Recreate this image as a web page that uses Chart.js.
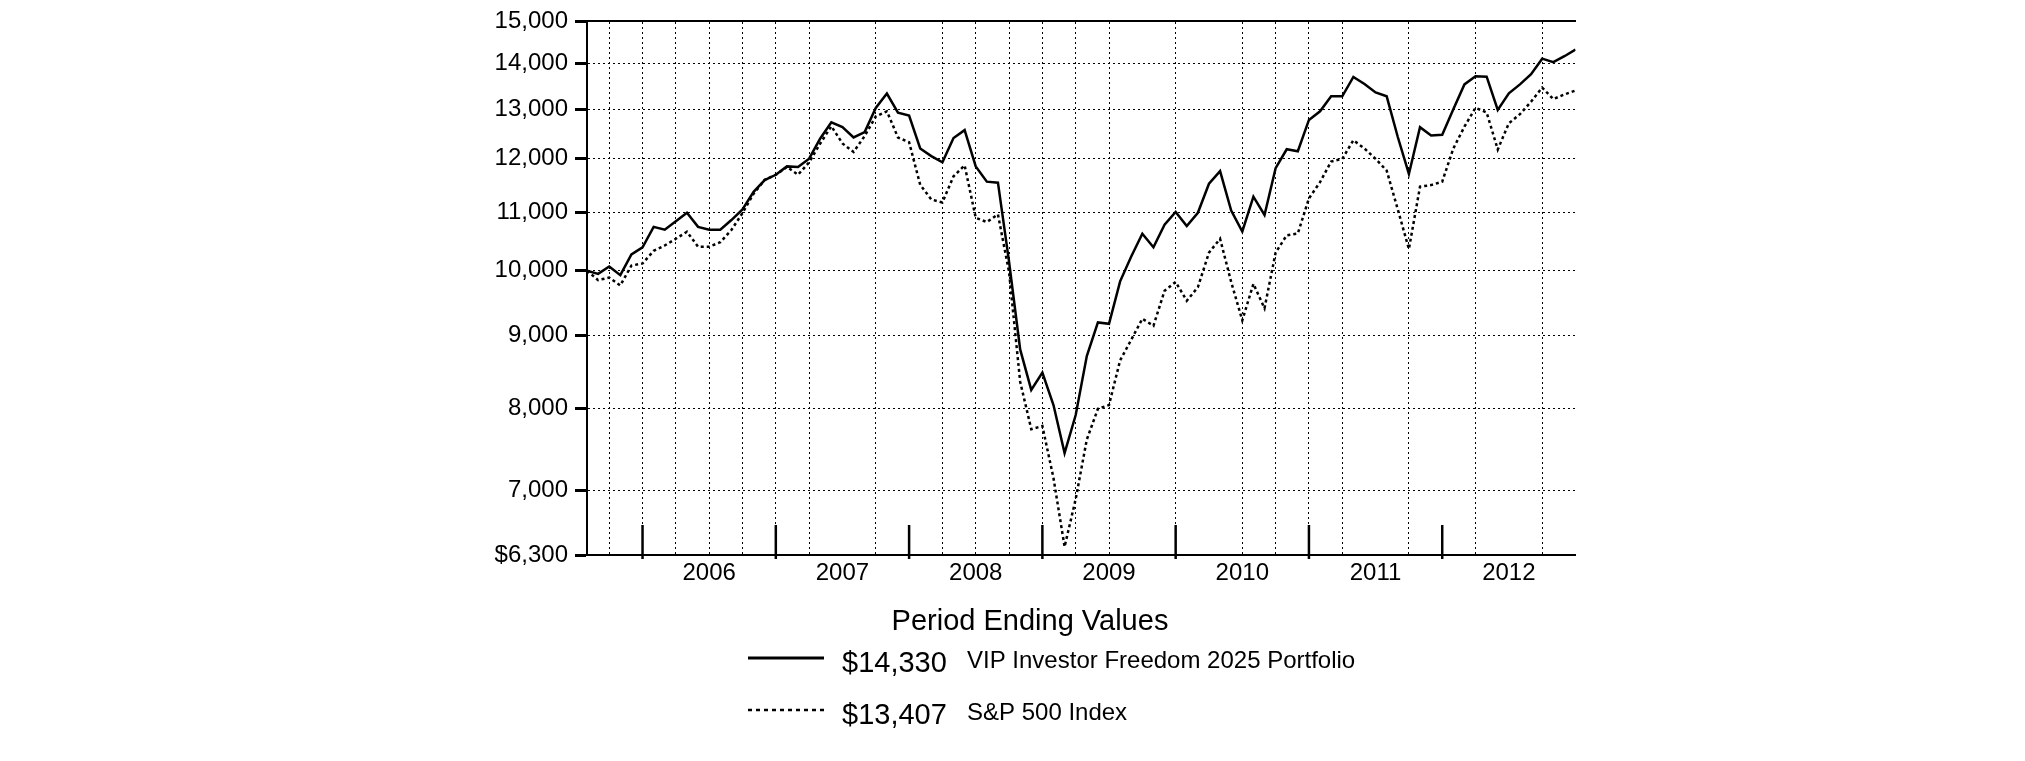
<!DOCTYPE html>
<html>
<head>
<meta charset="utf-8">
<title>Period Ending Values</title>
<script src="https://cdn.jsdelivr.net/npm/chart.js@4.4.1/dist/chart.umd.min.js"></script>
<style>
  html, body { margin: 0; padding: 0; background: #fff; }
  #wrap { width: 2025px; height: 761px; }
</style>
</head>
<body>
<div id="wrap"><canvas id="growthChart" width="2025" height="761"></canvas></div>
<script>
// month index 0 = start of the period (Jul 2005), 89 = Dec 2012
const fundName = "VIP Investor Freedom 2025 Portfolio";
const indexName = "S&P 500 Index";

const fundValues = [
  10000, 9950, 10070, 9930, 10270, 10390, 10740, 10690, 10840, 10990,
  10740, 10690, 10690, 10860, 11050, 11370, 11590, 11690, 11850, 11840,
  12000, 12400, 12730, 12630, 12420, 12530, 13030, 13340, 12930, 12870,
  12200, 12050, 11930, 12410, 12570, 11850, 11560, 11540, 10150, 8800,
  8240, 8475, 8040, 7435, 7910, 8705, 9195, 9175, 9830, 10235,
  10620, 10390, 10780, 11005, 10755, 10990, 11520, 11760, 11030, 10660,
  11280, 10950, 11815, 12185, 12145, 12780, 12960, 13280, 13280, 13705,
  13550, 13365, 13280, 12430, 11705, 12630, 12460, 12475, 13005, 13540,
  13720, 13710, 12990, 13345, 13540, 13765, 14118, 14040, 14175, 14330
];

const indexValues = [
  10000, 9850, 9890, 9765, 10085, 10120, 10330, 10420, 10535, 10655,
  10400, 10400, 10475, 10685, 10985, 11335, 11595, 11690, 11840, 11690,
  11930, 12300, 12650, 12300, 12130, 12450, 12850, 12960, 12420, 12325,
  11500, 11230, 11175, 11660, 11870, 10900, 10825, 10960, 9980, 8350,
  7730, 7770, 7140, 6385, 6900, 7600, 7990, 8040, 8645, 8940,
  9250, 9145, 9680, 9820, 9525, 9736, 10300, 10535, 9820, 9225,
  9790, 9410, 10300, 10595, 10625, 11250, 11550, 11945, 11995, 12365,
  12200, 11995, 11770, 11050, 10360, 11465, 11495, 11560, 12200, 12640,
  13035, 12935, 12180, 12710, 12900, 13165, 13470, 13220, 13320, 13407
];

const yTicks = [6300, 7000, 8000, 9000, 10000, 11000, 12000, 13000, 14000, 15000];
const yearLabels = ["2006", "2007", "2008", "2009", "2010", "2011", "2012"];
const yearMidMonths = [11, 23, 35, 47, 59, 71, 83];
const yearEndMonths = [5, 17, 29, 41, 53, 65, 77];
const gridMonths = [2, 5, 8, 11, 14, 17, 20, 26, 32, 35, 38, 41, 44, 47, 53, 59, 62, 65, 68, 74, 80, 86];

const FONT = '"Liberation Sans", Arial, sans-serif';

const toPoints = (arr) => arr.map((v, i) => ({ x: i, y: v }));
const money = (v) => v.toLocaleString("en-US");

// short solid marks at each year boundary on the bottom axis
const yearMarks = {
  id: "yearMarks",
  afterDatasetsDraw(chart) {
    const { ctx, chartArea, scales } = chart;
    ctx.save();
    ctx.strokeStyle = "#000";
    ctx.lineWidth = 2.5;
    yearEndMonths.forEach((m) => {
      const px = scales.x.getPixelForValue(m);
      ctx.beginPath();
      ctx.moveTo(px, chartArea.bottom - 30);
      ctx.lineTo(px, chartArea.bottom + 4);
      ctx.stroke();
    });
    ctx.restore();
  },
};

// title + legend underneath the chart
const endingLegend = {
  id: "endingLegend",
  afterDraw(chart) {
    const ctx = chart.ctx;
    const rows = [
      { dash: [], width: 3, value: fundValues[fundValues.length - 1], name: fundName, y: 658 },
      { dash: [4, 4], width: 2.5, value: indexValues[indexValues.length - 1], name: indexName, y: 710 },
    ];
    ctx.save();
    ctx.fillStyle = "#000";
    ctx.textBaseline = "middle";
    ctx.textAlign = "center";
    ctx.font = "29px " + FONT;
    ctx.fillText("Period Ending Values", 1030, 622);

    ctx.textAlign = "left";
    rows.forEach((r) => {
      ctx.strokeStyle = "#000";
      ctx.lineWidth = r.width;
      ctx.setLineDash(r.dash);
      ctx.beginPath();
      ctx.moveTo(748, r.y);
      ctx.lineTo(824, r.y);
      ctx.stroke();
      ctx.setLineDash([]);
      ctx.font = "29px " + FONT;
      ctx.fillText("$" + money(r.value), 842, r.y + 6);
      ctx.font = "24px " + FONT;
      ctx.fillText(r.name, 967, r.y + 3);
    });
    ctx.restore();
  },
};

const ctx = document.getElementById("growthChart").getContext("2d");
const growthChart = new Chart(ctx, {
  type: "line",
  data: {
    datasets: [
      {
        label: fundName,
        data: toPoints(fundValues),
        borderColor: "#000",
        borderWidth: 2.5,
        pointRadius: 0,
        tension: 0,
        fill: false,
      },
      {
        label: indexName,
        data: toPoints(indexValues),
        borderColor: "#000",
        borderWidth: 2.5,
        borderDash: [3, 3],
        pointRadius: 0,
        tension: 0,
        fill: false,
      },
    ],
  },
  options: {
    responsive: false,
    animation: false,
    devicePixelRatio: 1,
    layout: {
      padding: { left: 0, right: 449.5, top: 14, bottom: 0 },
    },
    plugins: {
      legend: { display: false },
      title: { display: false },
      tooltip: { enabled: false },
    },
    scales: {
      x: {
        type: "linear",
        position: "bottom",
        min: 0,
        max: fundValues.length - 1,
        afterBuildTicks: (scale) => {
          scale.ticks = yearMidMonths.map((m) => ({ value: m }));
        },
        afterFit: (scale) => {
          scale.height = 206;
        },
        ticks: {
          autoSkip: false,
          maxRotation: 0,
          padding: 4,
          color: "#000",
          font: { family: FONT, size: 24 },
          callback: (value, index) => yearLabels[index],
        },
        grid: { display: false, drawTicks: false },
        border: { display: true, color: "#000", width: 2 },
      },
      xg: {
        type: "linear",
        position: "top",
        min: 0,
        max: fundValues.length - 1,
        afterBuildTicks: (scale) => {
          scale.ticks = gridMonths.map((m) => ({ value: m }));
        },
        afterFit: (scale) => {
          scale.height = 0;
        },
        ticks: { display: false },
        grid: { display: true, drawTicks: false, color: "#000", lineWidth: 1 },
        border: { display: true, color: "#000", width: 2, dash: [2, 3] },
      },
      y: {
        type: "logarithmic",
        position: "left",
        min: 6300,
        max: 15000,
        afterBuildTicks: (scale) => {
          scale.ticks = yTicks.map((v) => ({ value: v }));
        },
        afterFit: (scale) => {
          scale.width = 587;
        },
        ticks: {
          autoSkip: false,
          padding: 7,
          color: "#000",
          font: { family: FONT, size: 24 },
          callback: (value) => (value === 6300 ? "$" : "") + money(value),
        },
        grid: {
          display: true,
          drawTicks: true,
          tickLength: 12,
          tickWidth: 3,
          tickColor: "#000",
          lineWidth: 1,
          color: (c) => (c.tick && (c.tick.value === 6300 || c.tick.value === 15000) ? "rgba(0,0,0,0)" : "#000"),
        },
        border: { display: true, color: "#000", width: 2, dash: [2, 3] },
      },
    },
  },
  plugins: [yearMarks, endingLegend],
});
</script>
</body>
</html>
